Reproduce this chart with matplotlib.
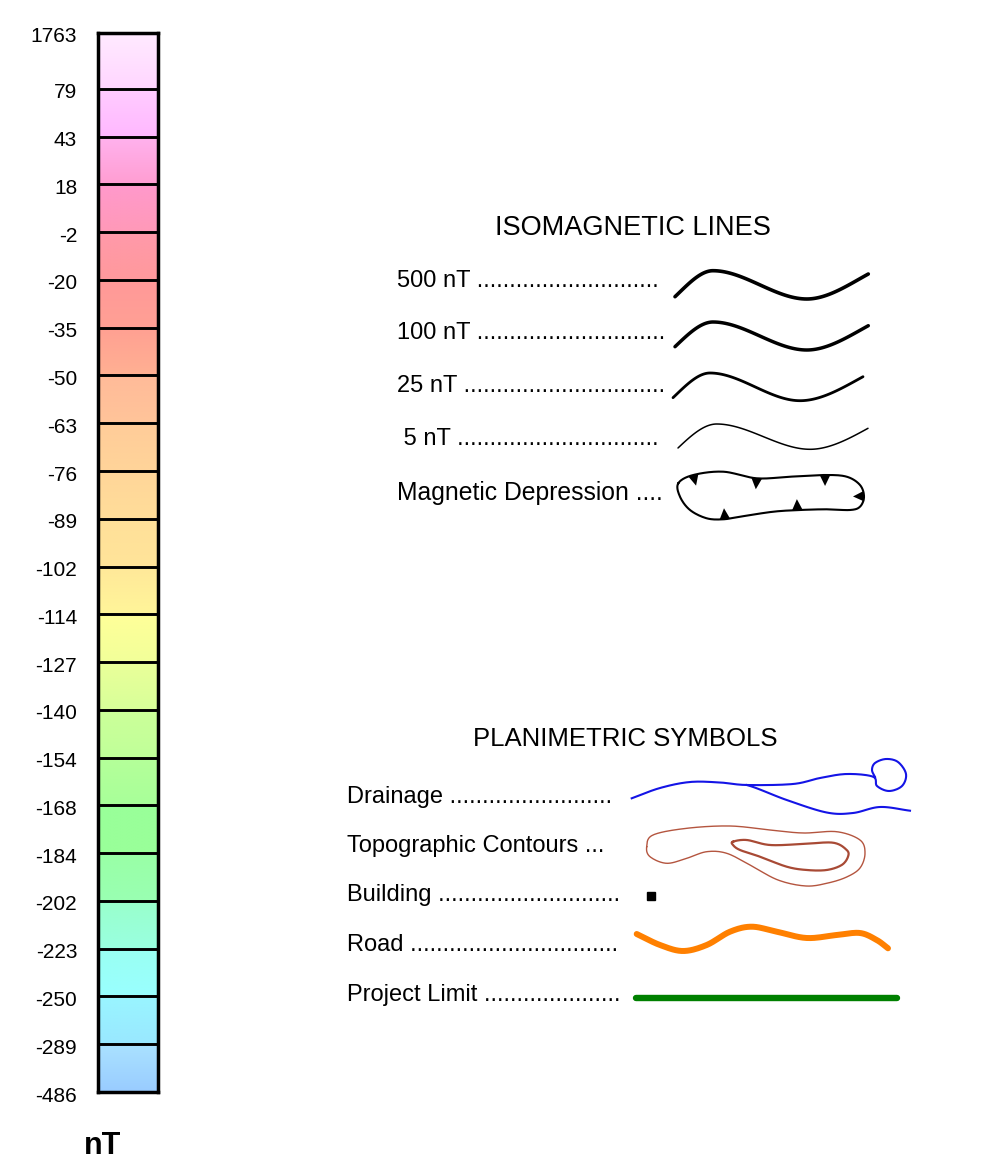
import numpy as np
import matplotlib
matplotlib.use('Agg')
import matplotlib.pyplot as plt
from matplotlib.colors import to_rgb
from matplotlib.transforms import ScaledTranslation

plt.rcParams['font.family'] = ['Liberation Sans', 'DejaVu Sans']

# ---------------- data ----------------
tick_labels = ['1763', '79', '43', '18', '-2', '-20', '-35', '-50', '-63', '-76',
               '-89', '-102', '-114', '-127', '-140', '-154', '-168', '-184',
               '-202', '-223', '-250', '-289', '-486']
seg_rel_height = [1.17] + [1.0] * 21
seg_top = ['#FFEAFF', '#FFCCFF', '#FFB2EE', '#FF99CC', '#FF99AA', '#FF9999',
           '#FFA092', '#FFBB99', '#FFCC99', '#FFD699', '#FFE099', '#FFE899',
           '#FFFF99', '#EAFF99', '#CCFF99', '#B5FF99', '#99FF99', '#99FFA6',
           '#99FFCC', '#99FFF2', '#99F5FF', '#AAE2FF']
seg_bot = ['#FFD6FF', '#FFB8FF', '#FF9ED2', '#FF99B8', '#FF999C', '#FFA094',
           '#FFB092', '#FFC499', '#FFD499', '#FFDD99', '#FFE499', '#FFF599',
           '#F2FF99', '#D8FF99', '#C0FF99', '#A8FF99', '#99FF99', '#99FFB2',
           '#99FFE0', '#99FFFF', '#99E8FF', '#99CCFF']

iso_labels = ['500 nT ' + '.' * 28, '100 nT ' + '.' * 29, '25 nT ' + '.' * 31,
              ' 5 nT ' + '.' * 31, 'Magnetic Depression ....']
iso_widths = [2.6, 2.5, 2.0, 1.1]
plan_labels = ['Drainage ' + '.' * 25, 'Topographic Contours ...',
               'Building ' + '.' * 28, 'Road ' + '.' * 32,
               'Project Limit ' + '.' * 21]

# ---------------- helpers ----------------
def hermite(pts, slopes, n=40):
    xs, ys = [], []
    for (x0, y0), (x1, y1), m0, m1 in zip(pts[:-1], pts[1:], slopes[:-1], slopes[1:]):
        t = np.linspace(0, 1, n)
        h = x1 - x0
        h00 = 2 * t**3 - 3 * t**2 + 1
        h10 = t**3 - 2 * t**2 + t
        h01 = -2 * t**3 + 3 * t**2
        h11 = t**3 - t**2
        xs.append(x0 + t * h)
        ys.append(h00 * y0 + h10 * h * m0 + h01 * y1 + h11 * h * m1)
    return np.concatenate(xs), np.concatenate(ys)


def catmull(pts, closed=False, n=20):
    p = np.asarray(pts, float)
    if closed:
        p = np.vstack([p[-1], p, p[0], p[1]])
    else:
        p = np.vstack([2 * p[0] - p[1], p, 2 * p[-1] - p[-2]])
    out = []
    t = np.linspace(0, 1, n, endpoint=False)[:, None]
    for i in range(1, len(p) - 2):
        p0, p1, p2, p3 = p[i - 1], p[i], p[i + 1], p[i + 2]
        seg = 0.5 * ((2 * p1) + (-p0 + p2) * t + (2 * p0 - 5 * p1 + 4 * p2 - p3) * t**2
                     + (-p0 + 3 * p1 - 3 * p2 + p3) * t**3)
        out.append(seg)
    out.append(p[-2][None, :])
    return np.vstack(out)


# ---------------- figure ----------------
fig = plt.figure(figsize=(9.88, 11.71), dpi=100)

ax = fig.add_axes([0, 0, 1, 1])
ax.set_xlim(0, 988)
ax.set_ylim(1171, 0)
ax.axis('off')
ax.patch.set_alpha(0)

cax = fig.add_axes([98 / 988, (1171 - 1092) / 1171, 60 / 988, 1059 / 1171])
bounds = np.concatenate([[0], np.cumsum(seg_rel_height)])
nseg = len(seg_top)
for i, (ct, cb) in enumerate(zip(seg_top, seg_bot)):
    grad = np.linspace(to_rgb(ct), to_rgb(cb), 32)[:, None, :]
    cax.imshow(grad, extent=(0, 1, bounds[i + 1], bounds[i]), aspect='auto',
               interpolation='bilinear', origin='upper')
for b in bounds[1:-1]:
    cax.axhline(b, color='black', lw=2.1)
cax.set_xlim(0, 1)
cax.set_ylim(bounds[-1], 0)
cax.set_xticks([])
cax.set_yticks(bounds)
cax.set_yticklabels(tick_labels, fontsize=15)
cax.tick_params(axis='y', length=0, pad=15)
offset = ScaledTranslation(0, -2 / 100, fig.dpi_scale_trans)
for lbl in cax.get_yticklabels():
    lbl.set_transform(lbl.get_transform() + offset)
for s in cax.spines.values():
    s.set_linewidth(2.5)

fig.text(103 / 988, 1 - 1146 / 1171, 'nT', ha='center', va='center',
         fontsize=22, fontweight='bold')

# ---------------- isomagnetic legend ----------------
ax.text(633, 228, 'ISOMAGNETIC LINES', ha='center', va='center', fontsize=19.5)
iso_y = [281, 333, 386, 439, 493]
for k, (lab, y) in enumerate(zip(iso_labels, iso_y)):
    ax.text(397, y, lab, ha='left', va='center', fontsize=17.8 if k == 4 else 17)

iso_pts = [
    [(675, 296.7), (713, 270.7), (806.7, 299), (868.3, 274)],
    [(675, 346.7), (713, 322), (806.7, 350), (868.3, 325.7)],
    [(673, 397.7), (710, 373), (800, 400.7), (863, 376.7)],
    [(678, 448), (716.7, 424), (810, 449.3), (868, 428.3)],
]
for pts, lw in zip(iso_pts, iso_widths):
    x, y = hermite(pts, [-0.95, 0, 0, -0.55])
    ax.plot(x, y, color='black', lw=lw, solid_capstyle='round')

# magnetic depression loop
dep_pts = [(678.3, 483.3), (693.3, 475), (723.3, 471.7), (756.7, 478.3), (790, 476.7),
           (825, 475), (846.7, 476.7), (860, 485), (864, 496.7), (860, 506.7),
           (850, 510), (826.7, 509.3), (800, 510), (773.3, 511.7), (740, 516.7),
           (723.3, 519.3), (706.7, 518.3), (690, 510), (680, 496.7)]
loop = catmull(dep_pts, closed=True, n=20)
ax.plot(loop[:, 0], loop[:, 1], color='black', lw=1.5)
cen = loop.mean(axis=0)
anchors = [(693, 476), (757, 479), (825, 476), (864, 496), (725, 518), (798, 510)]
for axx, ayy in anchors:
    k = np.argmin((loop[:, 0] - axx) ** 2 + (loop[:, 1] - ayy) ** 2)
    p = loop[k]
    tang = loop[(k + 2) % (len(loop) - 1)] - loop[(k - 2) % (len(loop) - 1)]
    tang = tang / np.hypot(*tang)
    nrm = np.array([-tang[1], tang[0]])
    if np.dot(cen - p, nrm) < 0:
        nrm = -nrm
    tri = np.array([p + 5.3 * tang, p - 5.3 * tang, p + 11 * nrm])
    ax.fill(tri[:, 0], tri[:, 1], color='black', lw=0)

# ---------------- planimetric legend ----------------
ax.text(625, 739, 'PLANIMETRIC SYMBOLS', ha='center', va='center', fontsize=18.5)
plan_y = [797, 846, 895, 945, 995]
for lab, y in zip(plan_labels, plan_y):
    ax.text(347, y, lab, ha='left', va='center', fontsize=17)

blue = '#1414E6'
drain1 = [(631.7, 798.3), (660, 788), (690, 782), (720, 782.5), (746.7, 785),
          (793, 784), (820, 778), (846.7, 774), (873, 776.7), (877, 786),
          (889, 791), (902, 786), (906, 774), (898, 762), (886, 759),
          (875, 763), (872, 770), (875, 777)]
d1 = catmull(drain1, n=16)
ax.plot(d1[:, 0], d1[:, 1], color=blue, lw=1.5)
drain2 = [(720, 782.5), (746.7, 785), (786.7, 800), (826.7, 812.5), (853, 813),
          (880, 807), (910, 810.7)]
d2 = catmull(drain2, n=16)[16:]
ax.plot(d2[:, 0], d2[:, 1], color=blue, lw=1.5)

brown = '#B4553F'
outer = [(646.7, 846.7), (653, 835), (686.7, 828.3), (730, 826), (770, 830), (803, 833),
         (836.7, 831.7), (860, 840), (865, 853.3), (860, 868), (846.7, 877),
         (828, 883), (806, 886), (778, 880), (750, 865), (726.7, 853.3),
         (706.7, 851.7), (686.7, 858.3), (666.7, 863.3), (650, 856.7)]
o = catmull(outer, closed=True, n=16)
ax.plot(o[:, 0], o[:, 1], color=brown, lw=1.0)
inner = [(733, 841.7), (746.7, 840), (770, 845), (803, 844), (833, 842.7), (846.7, 850),
         (848, 856.7), (841.7, 865), (826.7, 870), (806.7, 870), (786.7, 866.7),
         (760, 856.7), (740, 850), (733, 845)]
ii = catmull(inner, closed=True, n=16)
ax.plot(ii[:, 0], ii[:, 1], color='#A84A35', lw=1.6)

ax.plot([651], [896], marker='s', color='black', markersize=5.5, lw=0)

road = [(636.7, 934), (660, 945), (683, 951), (706.7, 945), (730, 931.7), (751.7, 926.7),
        (776.7, 931.7), (806.7, 938), (836.7, 935), (860, 933), (876.7, 940), (888, 948.3)]
r = catmull(road, n=16)
ax.plot(r[:, 0], r[:, 1], color='#FF8000', lw=4.3, solid_capstyle='round')

ax.plot([636, 897], [998, 998], color='#008000', lw=4.6, solid_capstyle='round')

fig.savefig('out.png', dpi=100)
